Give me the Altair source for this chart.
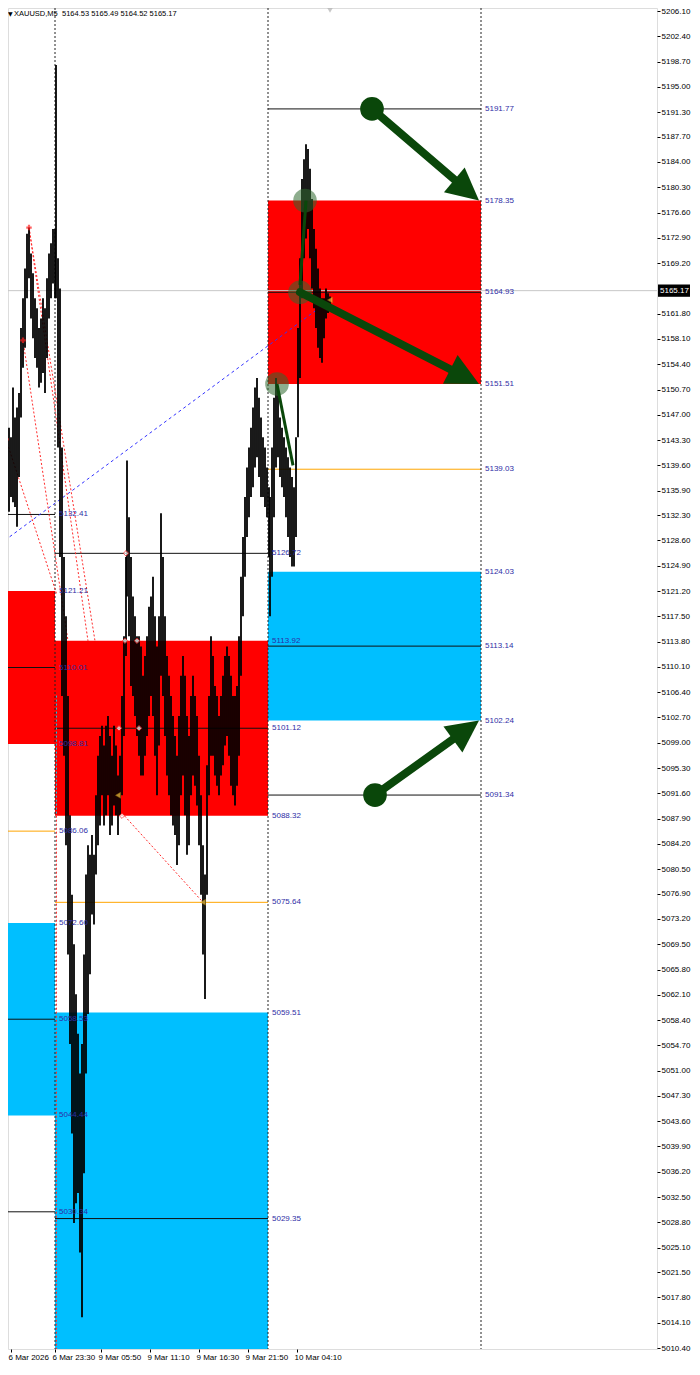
import altair as alt
import pandas as pd

# ---------------- axis values ----------------
y_ticks = [5206.10, 5202.40, 5198.70, 5195.00, 5191.30, 5187.70, 5184.00, 5180.30, 5176.60,
           5172.90, 5169.20, 5161.80, 5158.10, 5154.40, 5150.70, 5147.00, 5143.30, 5139.60,
           5135.90, 5132.30, 5128.60, 5124.90, 5121.20, 5117.50, 5113.80, 5110.10, 5106.40,
           5102.70, 5099.00, 5095.30, 5091.60, 5087.90, 5084.20, 5080.50, 5076.90, 5073.20,
           5069.50, 5065.80, 5062.10, 5058.40, 5054.70, 5051.00, 5047.30, 5043.60, 5039.90,
           5036.20, 5032.50, 5028.80, 5025.10, 5021.50, 5017.80, 5014.10, 5010.40]
x_tick_pos = [11, 55, 101, 150, 199, 248, 297]
x_tick_labels = ["6 Mar 2026", "6 Mar 23:30", "9 Mar 05:50", "9 Mar 11:10",
                 "9 Mar 16:30", "9 Mar 21:50", "10 Mar 04:10"]
x_domain = [8, 657]
y_domain = [5010.26, 5206.54]

current_price = 5165.17
header_arrow = "\u25bc"
header_name = "XAUUSD,M5"
header_ohlc = "5164.53 5165.49 5164.52 5165.17"

# ---------------- price bars (bar position, high, low) ----------------
bar_x = [3, 5, 7, 9, 11, 13, 15, 17, 19, 21, 23, 25, 27, 29, 31, 33, 35, 37, 39, 41, 43, 45, 47, 49,
         51, 53, 55, 56, 58, 60, 62, 64, 66, 68, 70, 72, 74, 76, 78, 80, 82, 84, 86, 88, 90, 92,
         94, 96, 98, 100, 102, 104, 106, 108, 110, 112, 114, 116, 118, 120, 122, 124, 126, 127,
         129, 131, 133, 135, 137, 139, 141, 143, 145, 147, 149, 151, 153, 155, 157, 159, 161, 163,
         165, 167, 169, 171, 173, 175, 177, 179, 181, 183, 185, 187, 189, 191, 193, 195, 197, 199,
         201, 203, 205, 207, 209, 211, 213, 215, 217, 219, 221, 223, 225, 227, 229, 231, 233, 235,
         237, 239, 241, 243, 245, 247, 249, 251, 253, 255, 257, 259, 261, 263, 265, 267, 269, 270,
         272, 274, 276, 278, 280, 282, 284, 286, 288, 290, 292, 294, 296, 298, 300, 302, 304, 306,
         308, 310, 312, 314, 316, 318, 320, 322, 324, 326, 328, 330]
bar_high = [5152.4, 5146.6, 5149.5, 5145.1, 5143.7, 5151.0, 5146.6, 5148.05, 5150.2, 5159.7,
            5164.05, 5168.4, 5173.5, 5174.4, 5170.6, 5167.7, 5164.05, 5162.6, 5159.7, 5161.1,
            5164.05, 5162.6, 5167.0, 5170.6, 5172.1, 5174.2, 5174.2, 5198.2, 5169.9, 5165.5,
            5142.2, 5126.2, 5117.5, 5105.85, 5088.4, 5076.75, 5069.5, 5062.2, 5056.4, 5050.6,
            5054.9, 5068.0, 5079.7, 5084.0, 5082.6, 5085.5, 5082.6, 5091.3, 5097.1, 5100.0,
            5101.5, 5098.6, 5101.5, 5102.9, 5100.0, 5097.1, 5101.5, 5098.6, 5094.2, 5097.1,
            5105.85, 5114.6, 5126.2, 5140.3, 5132.0, 5126.2, 5120.4, 5117.5, 5114.6, 5114.6,
            5113.1, 5108.8, 5111.7, 5114.6, 5118.9, 5120.4, 5123.3, 5117.5, 5113.1, 5117.5,
            5132.6, 5126.2, 5117.5, 5111.7, 5108.8, 5105.85, 5102.9, 5100.0, 5097.1, 5102.9,
            5108.8, 5111.7, 5108.8, 5102.9, 5100.0, 5105.85, 5108.8, 5105.85, 5102.9, 5097.1,
            5091.3, 5084.0, 5079.7, 5095.7, 5105.85, 5114.6, 5111.7, 5107.3, 5105.85, 5102.9,
            5105.85, 5108.8, 5111.7, 5113.1, 5111.7, 5108.8, 5105.85, 5105.85, 5107.3, 5114.6,
            5123.3, 5129.1, 5134.95, 5139.3, 5142.2, 5145.1, 5148.05, 5151.0, 5152.4, 5149.5,
            5146.6, 5143.7, 5142.2, 5139.3, 5136.4, 5134.95, 5142.2, 5149.5, 5152.4, 5151.0,
            5146.6, 5145.1, 5143.7, 5142.2, 5140.8, 5139.3, 5137.9, 5136.4, 5143.7, 5159.7,
            5169.9, 5181.5, 5184.4, 5186.6, 5185.9, 5183.0, 5178.6, 5174.2, 5171.3, 5168.4,
            5165.5, 5164.05, 5164.05, 5165.5, 5164.8, 5164.3]
bar_low = [5130.6, 5129.1, 5132.0, 5132.8, 5134.95, 5134.2, 5133.5, 5130.6, 5137.9, 5146.6,
           5153.9, 5156.8, 5164.05, 5167.0, 5161.1, 5158.2, 5155.3, 5153.9, 5151.0, 5151.7,
           5153.1, 5150.2, 5155.3, 5161.1, 5164.05, 5166.2, 5164.05, 5164.05, 5142.2, 5126.2,
           5105.85, 5097.1, 5084.0, 5068.0, 5054.9, 5041.8, 5028.7, 5031.6, 5033.1, 5024.4,
           5014.9, 5036.0, 5050.6, 5059.3, 5065.1, 5073.85, 5072.4, 5079.7, 5084.0, 5086.9,
           5091.3, 5086.9, 5088.4, 5091.3, 5085.5, 5086.9, 5089.8, 5088.4, 5085.5, 5088.4,
           5091.3, 5100.0, 5111.7, 5120.4, 5114.6, 5107.3, 5105.85, 5102.9, 5100.0, 5097.1,
           5094.2, 5094.2, 5097.1, 5100.0, 5102.9, 5105.85, 5102.9, 5097.1, 5091.3, 5098.6,
           5108.8, 5105.85, 5100.0, 5094.2, 5091.3, 5088.4, 5086.9, 5085.5, 5081.1, 5084.0,
           5091.3, 5094.2, 5088.4, 5082.6, 5084.0, 5091.3, 5094.2, 5092.7, 5089.8, 5084.0,
           5076.75, 5068.0, 5061.5, 5076.75, 5091.3, 5097.1, 5097.1, 5094.2, 5092.7, 5091.3,
           5094.2, 5095.7, 5098.6, 5100.0, 5097.1, 5092.7, 5091.3, 5089.8, 5092.7, 5097.1,
           5108.8, 5117.5, 5123.3, 5129.1, 5132.0, 5134.95, 5136.4, 5139.3, 5140.8, 5137.9,
           5134.95, 5134.95, 5133.5, 5132.0, 5126.2, 5117.5, 5123.3, 5132.0, 5139.3, 5140.8,
           5137.9, 5136.4, 5134.95, 5132.0, 5129.1, 5126.2, 5124.8, 5124.8, 5129.1, 5143.7,
           5152.4, 5164.05, 5169.9, 5172.8, 5174.2, 5169.9, 5165.5, 5162.6, 5159.7, 5156.8,
           5155.3, 5154.6, 5158.2, 5161.1, 5161.9, 5162.6]

# ---------------- zones ----------------
sell_x0 = [0, 55, 268]
sell_x1 = [55, 268, 481]
sell_top = [5121.21, 5113.92, 5178.35]
sell_bottom = [5098.81, 5088.32, 5151.51]
buy_x0 = [0, 55, 268]
buy_x1 = [55, 268, 481]
buy_top = [5072.60, 5059.51, 5124.03]
buy_bottom = [5044.44, 5000.00, 5102.24]

# ---------------- horizontal levels ----------------
black_x0 = [0, 0, 0, 0, 55, 55, 55, 268, 268, 268, 268]
black_x1 = [55, 55, 55, 55, 268, 268, 268, 481, 481, 481, 481]
black_price = [5132.41, 5110.01, 5058.53, 5030.34, 5126.72, 5101.12, 5029.35,
               5191.77, 5164.93, 5113.14, 5091.34]
orange_x0 = [0, 55, 268]
orange_x1 = [55, 268, 481]
orange_price = [5086.06, 5075.64, 5139.03]

# ---------------- price labels ----------------
label_x = [59] * 9 + [272] * 7 + [485] * 9
label_price = [5132.41, 5121.21, 5110.01, 5098.81, 5086.06, 5072.60, 5058.53, 5044.44, 5030.34,
               5126.72, 5113.92, 5101.12, 5088.32, 5075.64, 5059.51, 5029.35,
               5191.77, 5178.35, 5164.93, 5151.51, 5139.03, 5124.03, 5113.14, 5102.24, 5091.34]

# ---------------- vertical separators ----------------
sep_x = [55, 268, 481]

# ---------------- arrows ----------------
arrow_x0 = [372, 300, 375]
arrow_p0 = [5191.77, 5164.93, 5091.34]
arrow_x1 = [479, 479, 479]
arrow_p1 = [5178.35, 5151.51, 5102.24]
arrow_angle = [130, 117, 54]
arrow_shaft = [0.86, 0.91, 0.86]
dot_x = [372, 375]
dot_p = [5191.77, 5091.34]
ghost_x = [305, 300, 277]
ghost_p = [5178.35, 5164.93, 5151.51]
small_x0 = [306, 277]
small_p0 = [5178.35, 5151.51]
small_x1 = [300, 293]
small_p1 = [5166.0, 5139.6]

# ---------------- zigzag / trend lines ----------------
zz_x0 = [29, 29, 23, 6, 122]
zz_p0 = [5174.4, 5174.4, 5157.9, 5143.4, 5088.7]
zz_x1 = [95, 88, 68, 57, 203]
zz_p1 = [5113.9, 5113.9, 5113.9, 5120.6, 5075.64]
trend_x = [0, 330]
trend_p = [5128.1, 5163.8]
star_x = [29, 23, 6]
star_p = [5174.4, 5157.9, 5143.4]
mark_x = [126, 125, 137, 119, 139, 122]
mark_p = [5126.72, 5113.92, 5113.92, 5101.12, 5101.12, 5088.32]
ymark_x = [118, 203, 330]
ymark_p = [5091.3, 5075.64, 5163.8]

# ---------------- colours ----------------
RED = "#FF0000"
CYAN = "#00BFFF"
ORANGE = "#FFA500"
GREEN = "#0A470A"
LABEL = "#2E2EA6"
FONT = "Liberation Sans"

xs = alt.Scale(domain=x_domain, nice=False, zero=False)
ys = alt.Scale(domain=y_domain, nice=False, zero=False)

labels_expr = "[" + ",".join("'%s'" % t for t in x_tick_labels) + "][indexof([" + \
    ",".join(str(v) for v in x_tick_pos) + "], datum.value)]"

x_axis = alt.Axis(values=x_tick_pos, labelExpr=labels_expr, title=None, grid=False,
                  domain=False, tickSize=3, tickColor="#000", labelFont=FONT,
                  labelFontSize=8, labelColor="#000", labelAlign="left", labelPadding=1,
                  labelOffset=-3, labelFlush=False, labelOverlap=False)
y_axis = alt.Axis(orient="right", values=y_ticks, format=".2f", title=None, grid=False,
                  domain=False, tickSize=3, tickColor="#000", labelFont=FONT,
                  labelFontSize=8, labelColor="#000", labelPadding=1, labelOverlap=False,
                  labelFlush=False)


def X(f="x"):
    return alt.X(f + ":Q", scale=xs, axis=x_axis)


def Y(f="p"):
    return alt.Y(f + ":Q", scale=ys, axis=y_axis)


def seg_df(x0, x1, p0, p1):
    return pd.DataFrame({"x": x0, "x2": x1, "p": p0, "p2": p1})


sell = alt.Chart(seg_df(sell_x0, sell_x1, sell_top, sell_bottom)).mark_rect(
    color=RED, clip=True).encode(x=X(), x2="x2:Q", y=Y(), y2="p2:Q")
buy = alt.Chart(seg_df(buy_x0, buy_x1, buy_top, buy_bottom)).mark_rect(
    color=CYAN, clip=True).encode(x=X(), x2="x2:Q", y=Y(), y2="p2:Q")

cur_df = pd.DataFrame({"x": [x_domain[0]], "x2": [x_domain[1]], "p": [current_price]})
cur_line = alt.Chart(cur_df).mark_rule(color="#C8C8C8", strokeWidth=1).encode(
    x=X(), x2="x2:Q", y=Y())

blk = alt.Chart(pd.DataFrame({"x": black_x0, "x2": black_x1, "p": black_price})).mark_rule(
    color="#111", strokeWidth=1, clip=True).encode(x=X(), x2="x2:Q", y=Y())
org = alt.Chart(pd.DataFrame({"x": orange_x0, "x2": orange_x1, "p": orange_price})).mark_rule(
    color=ORANGE, strokeWidth=1, clip=True).encode(x=X(), x2="x2:Q", y=Y())

seps = alt.Chart(pd.DataFrame({"x": sep_x})).mark_rule(
    color="#222", strokeWidth=1, strokeDash=[2, 2]).encode(x=X())

red_sep = alt.Chart(pd.DataFrame({"x": [56.5], "p": [5088.32], "p2": [5010.26]})).mark_rule(
    color="#FF3030", strokeWidth=1, strokeDash=[2, 2]).encode(x=X(), y=Y(), y2="p2:Q")
cyan_sep = alt.Chart(pd.DataFrame({"x": [56.5], "p": [5105.9], "p2": [5088.32]})).mark_rule(
    color="#20C0E0", strokeWidth=1, strokeDash=[2, 2]).encode(x=X(), y=Y(), y2="p2:Q")

trend = alt.Chart(pd.DataFrame({"x": trend_x, "p": trend_p})).mark_line(
    color="#3333FF", strokeWidth=1, strokeDash=[3, 3], clip=True).encode(x=X(), y=Y())

zz = alt.Chart(seg_df(zz_x0, zz_x1, zz_p0, zz_p1)).mark_rule(
    color="#FF2A2A", strokeWidth=1, strokeDash=[2, 2], clip=True).encode(
    x=X(), x2="x2:Q", y=Y(), y2="p2:Q")

bars = alt.Chart(pd.DataFrame({"x": bar_x, "p": bar_high, "p2": bar_low})).mark_rule(
    color="#000", strokeWidth=1.8, clip=True).encode(x=X(), y=Y(), y2="p2:Q")

stars = alt.Chart(pd.DataFrame({"x": star_x, "p": star_p})).mark_point(
    shape="cross", filled=True, color="#FF2020", size=30, clip=True).encode(x=X(), y=Y())

marks = alt.Chart(pd.DataFrame({"x": mark_x, "p": mark_p})).mark_point(
    shape="diamond", filled=True, fill="white", stroke="#FF2020", strokeWidth=1, size=30
).encode(x=X(), y=Y())
ymarks = alt.Chart(pd.DataFrame({"x": ymark_x, "p": ymark_p})).mark_point(
    shape="triangle-left", filled=True, fill="#F5C542", stroke="#B08000", strokeWidth=0.5,
    size=35).encode(x=X(), y=Y())

ghosts = alt.Chart(pd.DataFrame({"x": ghost_x, "p": ghost_p})).mark_circle(
    color="#2F6A2F", opacity=0.55, size=560).encode(x=X(), y=Y())

small = alt.Chart(seg_df(small_x0, small_x1, small_p0, small_p1)).mark_rule(
    color=GREEN, strokeWidth=3).encode(x=X(), x2="x2:Q", y=Y(), y2="p2:Q")

arrow_df = pd.DataFrame({"x": arrow_x0, "p": arrow_p0, "tx": arrow_x1, "tp": arrow_p1,
                         "k": arrow_shaft, "angle": arrow_angle})
shafts = alt.Chart(arrow_df).transform_calculate(
    ex="datum.x + (datum.tx - datum.x) * datum.k",
    ep="datum.p + (datum.tp - datum.p) * datum.k",
).mark_rule(color=GREEN, strokeWidth=8, strokeCap="round").encode(
    x=X(), x2="ex:Q", y=Y(), y2="ep:Q")
heads = alt.Chart(arrow_df).mark_point(
    shape="M0,0 L-0.95,1.9 L0.95,1.9 Z", filled=True, color=GREEN, opacity=1, size=1150
).encode(x=X("tx"), y=Y("tp"), angle=alt.Angle("angle:Q", scale=None))

dots = alt.Chart(pd.DataFrame({"x": dot_x, "p": dot_p})).mark_circle(
    color=GREEN, opacity=1, size=560).encode(x=X(), y=Y())

lab_df = pd.DataFrame({"x": label_x, "p": label_price,
                       "t": ["%.2f" % v for v in label_price]})
labels = alt.Chart(lab_df).mark_text(align="left", baseline="middle", font=FONT, fontSize=8,
                                     color=LABEL).encode(x=X(), y=Y(), text="t:N")

hdr_df = pd.DataFrame({"x": [14, 62], "p": [5205.66, 5205.66], "t": [header_name, header_ohlc]})
header = alt.Chart(hdr_df).mark_text(align="left", baseline="middle", font=FONT,
                                     fontSize=7.5, color="#000").encode(x=X(), y=Y(), text="t:N")
hdr_arrow = alt.Chart(pd.DataFrame({"x": [8], "p": [5205.66], "t": [header_arrow]})).mark_text(
    align="left", baseline="middle", font="DejaVu Sans", fontSize=6, color="#000").encode(
    x=X(), y=Y(), text="t:N")

shift = alt.Chart(pd.DataFrame({"x": [330], "p": [5206.2]})).mark_point(
    shape="triangle-down", filled=True, color="#B0B0B0", size=30).encode(x=X(), y=Y())

box = alt.Chart(pd.DataFrame({"x": [658], "x2": [690], "p": [current_price + 0.9],
                              "p2": [current_price - 0.9]})).mark_rect(color="#000").encode(
    x=X(), x2="x2:Q", y=Y(), y2="p2:Q")
box_t = alt.Chart(pd.DataFrame({"x": [660], "p": [current_price],
                                "t": ["%.2f" % current_price]})).mark_text(
    align="left", baseline="middle", font=FONT, fontSize=8, color="#fff").encode(
    x=X(), y=Y(), text="t:N")

chart = alt.layer(
    sell, buy, cur_line, blk, org, seps, red_sep, cyan_sep, trend, zz, bars, stars, marks,
    ymarks, ghosts, small, shafts, heads, dots, labels, header, hdr_arrow, shift, box, box_t
).properties(
    width=649, height=1341,
    autosize=alt.AutoSizeParams(type="none"),
    padding={"left": 0, "top": 0, "right": 34, "bottom": 13}
).configure_view(stroke="#000", strokeWidth=1).configure(background="white")

chart.save("out.html", embed_options={"renderer": "svg", "actions": False})
